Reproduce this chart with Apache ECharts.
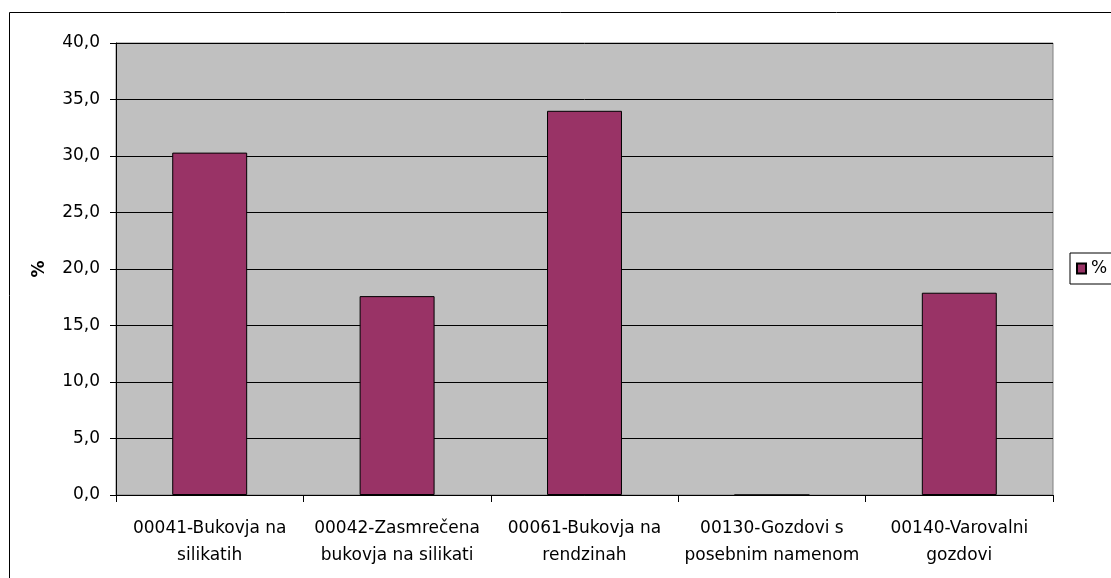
<!DOCTYPE html>
<html>
<head>
<meta charset="utf-8">
<script src="https://cdn.jsdelivr.net/npm/echarts@6/dist/echarts.min.js"></script>
<style>
html,body{margin:0;padding:0;background:#fff;}
#chart{width:1111px;height:578px;}
</style>
</head>
<body>
<div id="chart"></div>
<script>
var categories = [
  "00041-Bukovja na\nsilikatih",
  "00042-Zasmrečena\nbukovja na silikati",
  "00061-Bukovja na\nrendzinah",
  "00130-Gozdovi s\nposebnim namenom",
  "00140-Varovalni\ngozdovi"
];
var seriesName = "%";
var values = [30.3, 17.6, 34.0, 0, 17.9];
var yTicks = { min: 0, max: 40, interval: 5 };

var FONT = "DejaVu Sans";
var chart = echarts.init(document.getElementById('chart'));
chart.setOption({
  animation: false,
  backgroundColor: '#fff',
  textStyle: { fontFamily: FONT },
  graphic: [{
    type: 'rect',
    shape: { x: 9.5, y: 12.5, width: 1300, height: 800 },
    style: { fill: 'none', stroke: '#000', lineWidth: 1 },
    silent: true
  }],
  legend: {
    left: 1070,
    top: 253,
    orient: 'vertical',
    padding: [7, 6, 7, 6],
    borderColor: '#000',
    borderWidth: 1,
    itemWidth: 9,
    itemHeight: 10,
    itemGap: 5,
    textStyle: { fontFamily: FONT, fontSize: 17, color: '#000', lineHeight: 17 },
    data: [{ name: seriesName, icon: 'rect' }]
  },
  grid: {
    left: 116, top: 43, right: 58, bottom: 83,
    show: true,
    backgroundColor: '#C0C0C0',
    borderColor: '#808080',
    borderWidth: 1,
    containLabel: false
  },
  xAxis: {
    type: 'category',
    data: categories,
    boundaryGap: true,
    axisLine: { show: true, lineStyle: { color: '#000', width: 1 } },
    axisTick: { show: true, length: 7, lineStyle: { color: '#000' }, alignWithLabel: false },
    axisLabel: {
      interval: 0,
      margin: 20,
      fontFamily: FONT,
      fontSize: 17,
      lineHeight: 27,
      color: '#000',
      align: 'center'
    },
    splitLine: { show: false }
  },
  yAxis: {
    type: 'value',
    min: yTicks.min,
    max: yTicks.max,
    interval: yTicks.interval,
    name: '%',
    nameLocation: 'middle',
    nameGap: 68,
    nameRotate: 90,
    nameTextStyle: { fontFamily: FONT, fontSize: 17, fontWeight: 'bold', color: '#000' },
    axisLine: { show: true, lineStyle: { color: '#000', width: 1 } },
    axisTick: { show: true, length: 6, inside: false, lineStyle: { color: '#000' } },
    axisLabel: {
      margin: 16,
      fontFamily: FONT,
      fontSize: 17,
      color: '#000',
      formatter: function (v) { return v.toFixed(1).replace('.', ','); }
    },
    splitLine: { show: true, lineStyle: { color: '#000', width: 1 } }
  },
  series: [{
    name: seriesName,
    type: 'bar',
    data: values,
    barWidth: '40%',
    itemStyle: { color: '#993366', borderColor: '#000', borderWidth: 1 }
  }]
});
</script>
</body>
</html>
